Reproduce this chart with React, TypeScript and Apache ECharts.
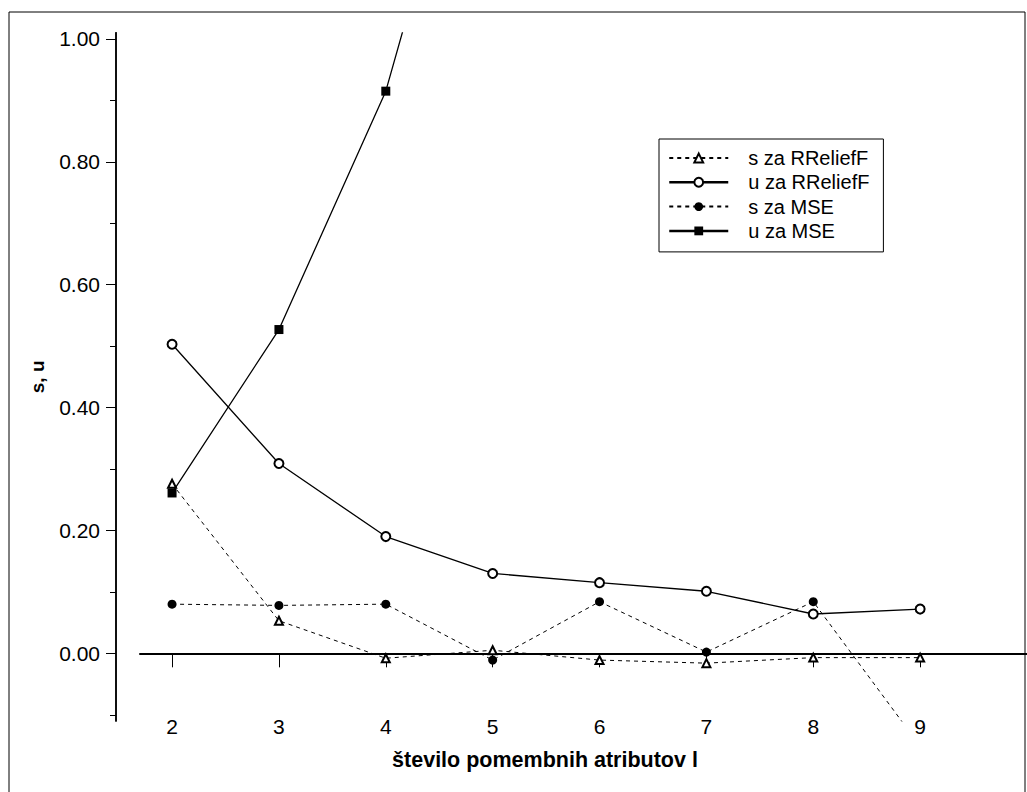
import React, { useEffect, useRef } from "react";
import * as echarts from "echarts";

const xTicks = [2, 3, 4, 5, 6, 7, 8, 9];
const sRRelief = [0.276, 0.053, -0.008, 0.005, -0.011, -0.016, -0.007, -0.007];
const uRRelief = [0.503, 0.309, 0.19, 0.13, 0.115, 0.101, 0.064, 0.072];
const sMSE = [0.08, 0.078, 0.08, -0.011, 0.084, 0.002, 0.084, -0.151];
const uMSE = [0.261, 0.527, 0.915, 1.53];
const yMajorTicks = [0, 0.2, 0.4, 0.6, 0.8, 1.0];
const yMinorTicks = [-0.1, 0.1, 0.3, 0.5, 0.7, 0.9];
const seriesNames = ["s za RReliefF", "u za RReliefF", "s za MSE", "u za MSE"];
const xTitle = "število pomembnih atributov l";
const yTitle = "s, u";

const FONT = "'Liberation Sans', Arial, sans-serif";

function pairs(vals: number[]) {
  return vals.map((v, i) => [xTicks[i], v]);
}

export default function App() {
  const ref = useRef<HTMLDivElement>(null);
  useEffect(() => {
    document.body.style.margin = "0";
    const chart = echarts.init(ref.current!, null, { renderer: "svg" });
    const yBase = {
      type: "value",
      min: -0.11,
      max: 1.01,
      position: "left",
      offset: 24,
      splitLine: { show: false },
      axisLine: { show: true, lineStyle: { color: "#000", width: 1.5 } },
    };
    chart.setOption({
      animation: false,
      backgroundColor: "#fff",
      textStyle: { fontFamily: FONT },
      grid: {
        left: 140,
        right: 0,
        top: 32.8,
        bottom: 71.1,
        containLabel: false,
        outerBoundsMode: "none",
      },
      xAxis: {
        type: "value",
        min: 1.7,
        max: 10,
        axisLine: { show: true, onZero: true, lineStyle: { color: "#000", width: 2 } },
        axisTick: {
          show: true,
          length: 14,
          customValues: xTicks,
          lineStyle: { color: "#000", width: 1 },
        },
        axisLabel: {
          customValues: xTicks,
          margin: -5,
          color: "#000",
          fontSize: 21,
          fontFamily: FONT,
        },
        splitLine: { show: false },
      },
      yAxis: [
        {
          ...yBase,
          name: yTitle,
          nameLocation: "middle",
          nameGap: 69,
          nameTextStyle: { color: "#000", fontSize: 19, fontWeight: "bold", fontFamily: FONT },
          axisTick: {
            show: true,
            length: 10,
            customValues: yMajorTicks,
            lineStyle: { color: "#000", width: 1 },
          },
          axisLabel: {
            customValues: yMajorTicks,
            margin: 16,
            color: "#000",
            fontSize: 21,
            fontFamily: FONT,
            formatter: (v: number) => v.toFixed(2),
          },
        },
        {
          ...yBase,
          axisTick: {
            show: true,
            length: 6,
            customValues: yMinorTicks,
            lineStyle: { color: "#000", width: 1 },
          },
          axisLabel: { show: false },
        },
      ],
      legend: {
        orient: "vertical",
        left: 659,
        top: 139,
        padding: [9, 14, 11, 9],
        borderColor: "#000",
        borderWidth: 1,
        borderRadius: 0,
        itemWidth: 59,
        itemHeight: 11,
        itemGap: 4.3,
        textStyle: {
          color: "#000",
          fontSize: 20,
          fontFamily: FONT,
          lineHeight: 20,
          padding: [0, 0, 0, 15],
        },
        data: [
          { name: seriesNames[0] },
          { name: seriesNames[1], lineStyle: { width: 2.5 } },
          { name: seriesNames[2] },
          { name: seriesNames[3], lineStyle: { width: 2.5 } },
        ],
      },
      graphic: [
        {
          type: "rect",
          shape: { x: 9, y: 12, width: 1016, height: 800 },
          style: { fill: "none", stroke: "#000", lineWidth: 1 },
          silent: true,
        },
        {
          type: "text",
          x: 545,
          y: 760,
          style: {
            text: xTitle,
            fill: "#000",
            font: `bold 21.5px ${FONT}`,
            textAlign: "center",
            textVerticalAlign: "middle",
          },
        },
      ],
      series: [
        {
          name: seriesNames[0],
          type: "line",
          data: pairs(sRRelief),
          symbol: "emptyTriangle",
          symbolSize: 8,
          lineStyle: { color: "#000", width: 1, type: [4, 4] },
          itemStyle: { color: "#000", borderWidth: 1 },
        },
        {
          name: seriesNames[1],
          type: "line",
          data: pairs(uRRelief),
          symbol: "emptyCircle",
          symbolSize: 9,
          lineStyle: { color: "#000", width: 1.3 },
          itemStyle: { color: "#000", borderWidth: 1 },
        },
        {
          name: seriesNames[2],
          type: "line",
          data: pairs(sMSE),
          symbol: "circle",
          symbolSize: 9,
          lineStyle: { color: "#000", width: 1, type: [4, 4] },
          itemStyle: { color: "#000" },
        },
        {
          name: seriesNames[3],
          type: "line",
          data: pairs(uMSE),
          symbol: "rect",
          symbolSize: 9,
          lineStyle: { color: "#000", width: 1.3 },
          itemStyle: { color: "#000" },
        },
      ],
    });
    return () => chart.dispose();
  }, []);
  return (
    <div
      ref={ref}
      style={{ position: "absolute", left: 0, top: 0, width: 1027, height: 792 }}
    />
  );
}
